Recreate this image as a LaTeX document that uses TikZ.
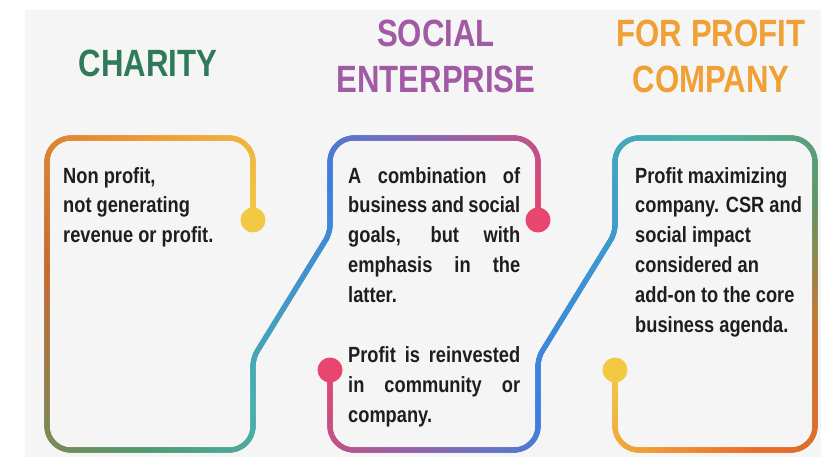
\documentclass[tikz,border=0pt]{standalone}
\usepackage{fontspec}
\newfontfamily\headfont{Liberation Sans}[FakeStretch=0.82]
\newfontfamily\bodyfont{Liberation Sans}[FakeStretch=0.83]
\usetikzlibrary{decorations.markings}
\definecolor{bg}{HTML}{F5F5F5}
\definecolor{txt}{HTML}{1E1E1E}
\definecolor{cCharity}{HTML}{2F7A5A}
\definecolor{cSocial}{HTML}{A35AA5}
\definecolor{cProfit}{HTML}{F0A035}
\definecolor{gYellow}{HTML}{F3C944}
\definecolor{gOrangeY}{HTML}{EF9B36}
\definecolor{gBrown}{HTML}{C8692F}
\definecolor{gGreen}{HTML}{4F9B72}
\definecolor{gTeal}{HTML}{4BB0AE}
\definecolor{gBlue}{HTML}{3C80E0}
\definecolor{gSky}{HTML}{3FA0C8}
\definecolor{gPink}{HTML}{E8456F}
\definecolor{gTealG}{HTML}{4BB5A5}
\definecolor{gOlive}{HTML}{5E9668}
\definecolor{gOrangeB}{HTML}{C8772F}
\definecolor{gOrangeR}{HTML}{E96A2A}
\begin{document}
\begin{tikzpicture}[x=1pt,y=-1pt,
  grad/.style 2 args={rounded corners=24pt,
    decoration={markings, mark=between positions 0 and 1 step 0.7pt with {%
      \pgfmathsetmacro\gp{min(100,max(0,100*(\pgfkeysvalueof{/pgf/decoration/mark info/distance from start}/\pgfdecoratedpathlength)))}%
      \fill[color={#2!\gp!#1}] (0,0) circle (2.7pt);}},
    postaction={decorate}},
  smallbend/.style={rounded corners=8pt},
  title/.style={font=\headfont\bfseries\fontsize{38}{46}\selectfont, inner sep=0pt, anchor=base},
  body/.style={font=\bodyfont\bfseries\fontsize{22}{29.9}\selectfont, text=txt, inner sep=0pt, anchor=base west}]
\useasboundingbox (0,0) rectangle (821,457);
\fill[white] (0,0) rectangle (821,457);
\fill[bg] (25,10) rectangle (821,457);

% coordinates
\coordinate (d1) at (253,220);
\coordinate (c1tr) at (253,138);
\coordinate (m1) at (150,138);
\coordinate (c1tl) at (47,138);
\coordinate (m2) at (47,270);
\coordinate (c1bl) at (47,450);
\coordinate (m3) at (150,450);
\coordinate (c1br) at (253,450);
\coordinate (m4) at (253,405);
\coordinate (j1) at (253,358);
\coordinate (j2) at (330,233);
\coordinate (m5) at (330,185);
\coordinate (c2tl) at (330,138);
\coordinate (c2tr) at (538,138);
\coordinate (d2) at (538,220);
\coordinate (d3) at (330,370);
\coordinate (c2bl) at (330,450);
\coordinate (c2br) at (538,450);
\coordinate (m6) at (538,405);
\coordinate (j3) at (538,358);
\coordinate (j4) at (615,233);
\coordinate (m11) at (615,185);
\coordinate (c3tl) at (615,138);
\coordinate (m7) at (700,138);
\coordinate (c3tr) at (815,138);
\coordinate (m8) at (815,200);
\coordinate (m9) at (815,330);
\coordinate (c3br) at (815,450);
\coordinate (m10) at (760,450);
\coordinate (c3bl) at (615,450);
\coordinate (d4) at (615,370);

% first line: charity box + social enterprise top
\path[grad={gYellow}{gOrangeY}] (d1) -- (c1tr) -- (m1);
\path[grad={gOrangeY}{gBrown}] (m1) -- (c1tl) -- (m2);
\path[grad={gBrown}{gGreen}] (m2) -- (c1bl) -- (m3);
\path[grad={gGreen}{gTeal}] (m3) -- (c1br) -- (m4);
\path[grad={gTeal}{gBlue}, smallbend] (m4) -- (j1) -- (j2) -- (m5);
\path[grad={gBlue}{gPink}] (m5) -- (c2tl) -- (c2tr) -- (d2);

% second line: social enterprise bottom + for profit box
\path[grad={gPink}{gBlue}] (d3) -- (c2bl) -- (c2br) -- (m6);
\path[grad={gBlue}{gSky}, smallbend] (m6) -- (j3) -- (j4) -- (m11);
\path[grad={gSky}{gTealG}] (m11) -- (c3tl) -- (m7);
\path[grad={gTealG}{gOlive}] (m7) -- (c3tr) -- (m8);
\path[grad={gOlive}{gOrangeB}] (m8) -- (m9);
\path[grad={gOrangeB}{gOrangeR}] (m9) -- (c3br) -- (m10);
\path[grad={gOrangeR}{gYellow}] (m10) -- (c3bl) -- (d4);

% dots
\fill[gYellow] (d1) circle (12.5pt);
\fill[gPink] (d2) circle (12.5pt);
\fill[gPink] (d3) circle (12.5pt);
\fill[gYellow] (d4) circle (12.5pt);

% titles
\node[title, text=cCharity] (tCharity) at (148,77) {CHARITY};
\node[title, text=cSocial] (tSocial) at (436,47) {\parbox[t]{260pt}{\centering SOCIAL\\ENTERPRISE}};
\node[title, text=cProfit] (tProfit) at (711,47) {\parbox[t]{220pt}{\centering FOR PROFIT\\COMPANY}};

% body texts
\node[body] (bCharity) at (63,183) {\parbox[t]{200pt}{Non profit,\\not generating\\revenue or profit.}};
\node[body] (bSocial) at (348,183) {\parbox[t]{172pt}{%
\makebox[172pt][s]{A combination of}\\
\makebox[172pt][s]{business and social}\\
\makebox[172pt][s]{goals, but with}\\
\makebox[172pt][s]{emphasis in the}\\
latter.\\
\mbox{}\\
\makebox[172pt][s]{Profit is reinvested}\\
\makebox[172pt][s]{in community or}\\
company.}};
\node[body] (bProfit) at (635,183) {\parbox[t]{180pt}{Profit maximizing\\company. CSR and\\social impact\\considered an\\add-on to the core\\business agenda.}};
\end{tikzpicture}
\end{document}
